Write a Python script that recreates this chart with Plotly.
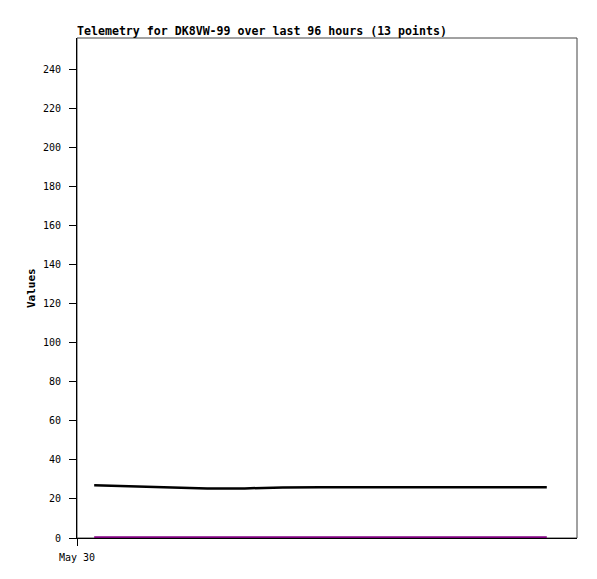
import plotly.graph_objects as go
from datetime import datetime, timedelta

# Data (hours after May 30 00:00)
hours = [3.3, 10.5, 17.7, 25.0, 32.2, 39.5, 46.7, 54.0, 61.2, 68.5, 75.7, 83.0, 90.2]
series_black = [27.0, 26.5, 25.9, 25.4, 25.4, 25.9, 26.0, 26.0, 26.0, 26.0, 26.0, 26.0, 26.0]
series_purple = [0.3] * 13
x_tick_labels = ["May 30"]

base = datetime(2024, 5, 30, 0, 0)
xs = [base + timedelta(hours=h) for h in hours]

fig = go.Figure()
fig.add_trace(go.Scatter(x=xs, y=series_black, mode="lines",
                         line=dict(color="#000000", width=2.5), showlegend=False))
fig.add_trace(go.Scatter(x=xs, y=series_purple, mode="lines",
                         line=dict(color="#800080", width=2.5), showlegend=False))

# page body has an 8px default margin
W, H = 589, 571
font_mono = "DejaVu Sans Mono"
fig.update_layout(
    width=W, height=H,
    margin=dict(l=69, r=20, t=30, b=41),
    plot_bgcolor="white", paper_bgcolor="white",
    title=dict(text="<b>Telemetry for DK8VW-99 over last 96 hours (13 points)</b>",
               x=69/W, xref="container", xanchor="left",
               y=1-23/H, yref="container", yanchor="middle",
               font=dict(family=font_mono, size=11.6, color="black")),
    xaxis=dict(range=[base, base + timedelta(hours=96)], type="date",
               tickvals=[base], ticktext=x_tick_labels,
               ticks="outside", ticklen=7, tickcolor="black",
               ticklabelstandoff=3,
               showline=True, linecolor="black", linewidth=1,
               showgrid=False, zeroline=False, layer="below traces",
               tickfont=dict(family=font_mono, size=10, color="black")),
    yaxis=dict(range=[0, 256], tickvals=list(range(0, 241, 20)),
               ticks="outside", ticklen=7, tickcolor="black",
               ticklabelstandoff=6,
               showline=True, linecolor="black", linewidth=1,
               showgrid=False, zeroline=False, layer="below traces",
               tickfont=dict(family=font_mono, size=10, color="black")),
    shapes=[dict(type="rect", xref="paper", yref="paper", x0=0, x1=1, y0=0, y1=1,
                 line=dict(color="#444444", width=1), layer="below")],
    annotations=[dict(text="<b>Values</b>", textangle=-90, xref="paper", yref="paper",
                      x=(31-77)/500, y=0.5, xanchor="center", yanchor="middle",
                      showarrow=False,
                      font=dict(family=font_mono, size=11, color="black"))],
)

fig.write_html("out.html")
